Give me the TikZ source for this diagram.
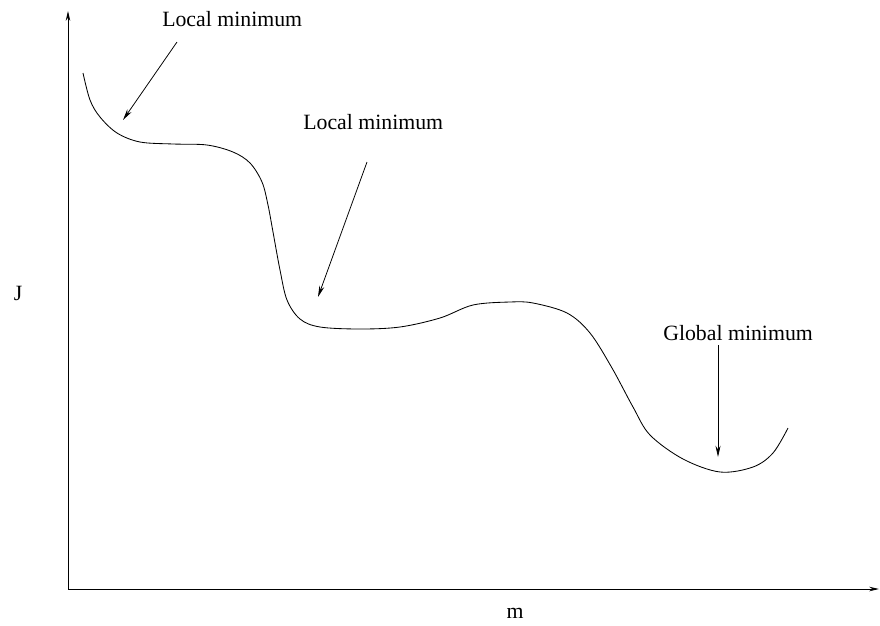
\documentclass[tikz,border=0pt]{standalone}
\usepackage{fontspec}
\setmainfont{Liberation Serif}
\usetikzlibrary{arrows.meta}
\begin{document}
\begin{tikzpicture}[x=0.025cm, y=-0.025cm,
  axisline/.style={line width=0.6pt, -{Stealth[length=7pt, width=3.2pt]}},
  pointer/.style={line width=0.55pt, -{Stealth[length=8pt, width=3.6pt]}},
  curveline/.style={line width=0.6pt},
  lbl/.style={font=\fontsize{15.5}{18}\selectfont, inner sep=0pt}]
  \useasboundingbox (0,0) rectangle (880,625);

  % axes
  \coordinate (o) at (68,589);
  \coordinate (ytop) at (68,11);
  \coordinate (xend) at (879,589);
  \draw[axisline] (o) -- (ytop);
  \draw[axisline] (o) -- (xend);
  \node[lbl] (ylab) at (18,293) {J};
  \node[lbl] (xlab) at (515,613) {m};

  % cost curve
  \draw[curveline] plot[smooth, tension=0.55] coordinates {
    (83,73) (90,100) (100,117) (117,133) (140,142) (173,144) (207,145)
    (233,152) (250,163) (262,182) (268,205) (273,232) (280,270) (287,300)
    (300,319) (320,327) (360,329) (400,327) (440,318) (473,305) (510,302)
    (533,303) (567,313) (590,333) (612,368) (633,407) (650,435) (683,459)
    (720,472) (753,467) (773,453) (788,428)};

  % labels and pointers
  \node[lbl, anchor=west] (lm1) at (162,19) {Local minimum};
  \node[lbl, anchor=west] (lm2) at (303,122) {Local minimum};
  \node[lbl, anchor=west] (gm) at (663,333) {Global minimum};

  \coordinate (a1s) at (177,42);  \coordinate (a1e) at (123,120);
  \coordinate (a2s) at (367,162); \coordinate (a2e) at (318,297);
  \coordinate (a3s) at (718,345); \coordinate (a3e) at (718,457);
  \draw[pointer] (a1s) -- (a1e);
  \draw[pointer] (a2s) -- (a2e);
  \draw[pointer] (a3s) -- (a3e);
\end{tikzpicture}
\end{document}
